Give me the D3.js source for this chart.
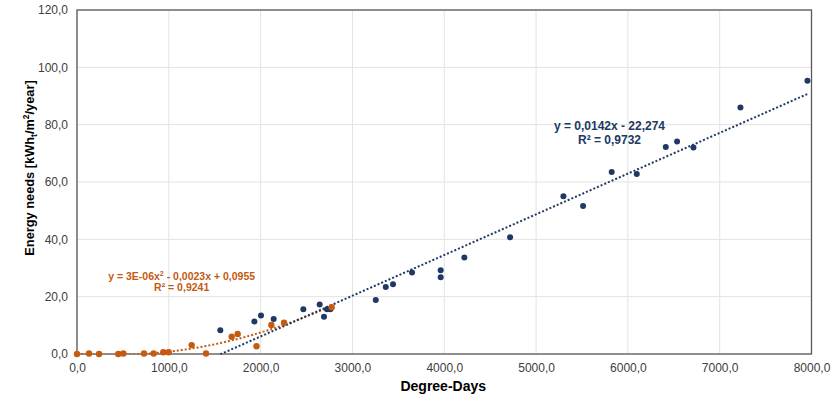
<!DOCTYPE html>
<html>
<head>
<meta charset="utf-8">
<script src="https://cdn.jsdelivr.net/npm/d3@7"></script>
<style>
  body { margin: 0; background: #fff; }
  text { font-family: "Liberation Sans", Arial, sans-serif; }
</style>
</head>
<body>
<script>
// data
var blueX = [1561, 1932, 2004, 2142, 2465, 2643, 2690, 2723, 2760, 3254, 3363, 3442, 3649, 3961, 3961, 4219, 4717, 5298, 5512, 5824, 6097, 6413, 6536, 6714, 7226, 7956];
var blueY = [8.3, 11.3, 13.4, 12.2, 15.6, 17.3, 13.0, 15.6, 15.6, 18.8, 23.4, 24.3, 28.4, 29.2, 26.8, 33.7, 40.7, 55.0, 51.6, 63.5, 62.8, 72.2, 74.1, 72.0, 86.0, 95.3];
var orangeX = [0, 131, 240, 450, 505, 730, 835, 940, 999, 1249, 1405, 1685, 1750, 1955, 2117, 2255, 2774];
var orangeY = [0, 0.2, 0, 0, 0.2, 0.2, 0.2, 0.6, 0.6, 3.1, 0.2, 6.0, 7.0, 2.7, 10.1, 10.9, 16.3];

// trendline coefficients (from the labels)
var blueFit = [0.0142, -22.274];          // a*x + b
var orangeFit = [3e-6, -0.0023, 0.0955];  // a*x^2 + b*x + c

var xTicks = [0, 1000, 2000, 3000, 4000, 5000, 6000, 7000, 8000];
var yTicks = [0, 20, 40, 60, 80, 100, 120];

var svgWidth = 838;
var svgHeight = 396;
var margin = { top: 10, right: 26.5, bottom: 42, left: 77 };
var width = svgWidth - margin.left - margin.right;
var height = svgHeight - margin.top - margin.bottom;

var navy = "#203864";
var orange = "#c55a11";

var loc = d3.formatLocale({ decimal: ",", thousands: "", grouping: [3], currency: ["", ""] });
var fmt = loc.format(".1f");

var svg = d3.select("body").append("svg")
  .attr("width", svgWidth)
  .attr("height", svgHeight);

var chartGroup = svg.append("g")
  .attr("transform", `translate(${margin.left}, ${margin.top})`);

var xScale = d3.scaleLinear().domain([0, 8000]).range([0, width]);
var yScale = d3.scaleLinear().domain([0, 120]).range([height, 0]);

// gridlines
chartGroup.append("g").selectAll("line").data(xTicks).enter().append("line")
  .attr("x1", d => xScale(d)).attr("x2", d => xScale(d))
  .attr("y1", 0).attr("y2", height)
  .attr("stroke", "#e3e3e3").attr("stroke-width", 1);
chartGroup.append("g").selectAll("line").data(yTicks).enter().append("line")
  .attr("x1", 0).attr("x2", width)
  .attr("y1", d => yScale(d)).attr("y2", d => yScale(d))
  .attr("stroke", "#e3e3e3").attr("stroke-width", 1);

// axes (labels only)
var bottomAxis = d3.axisBottom(xScale).tickValues(xTicks).tickFormat(fmt).tickSize(0).tickPadding(9);
var leftAxis = d3.axisLeft(yScale).tickValues(yTicks).tickFormat(fmt).tickSize(0).tickPadding(9);

var xAxis = chartGroup.append("g")
  .attr("transform", `translate(0, ${height})`)
  .call(bottomAxis);
var yAxis = chartGroup.append("g").call(leftAxis);

[xAxis, yAxis].forEach(function(ax) {
  ax.select(".domain").remove();
  ax.selectAll("text")
    .attr("font-family", "Liberation Sans, Arial, sans-serif")
    .attr("font-size", "12px")
    .attr("fill", "#404040");
});

// plot border
chartGroup.append("rect")
  .attr("x", 0).attr("y", 0)
  .attr("width", width).attr("height", height)
  .attr("fill", "none")
  .attr("stroke", "#595959")
  .attr("stroke-width", 1.3);

// clip for trendlines
svg.append("defs").append("clipPath").attr("id", "plotClip")
  .append("rect").attr("x", 0).attr("y", -2).attr("width", width).attr("height", height + 2.5);

var line = d3.line().x(d => xScale(d[0])).y(d => yScale(d[1]));

// linear trendline over the blue data range
var bx0 = d3.min(blueX), bx1 = d3.max(blueX);
var bluePts = [[bx0, blueFit[0] * bx0 + blueFit[1]], [bx1, blueFit[0] * bx1 + blueFit[1]]];

// polynomial trendline over the orange data range
var ox0 = d3.min(orangeX), ox1 = d3.max(orangeX);
var orangePts = d3.range(ox0, ox1 + 1, 20).map(function(x) {
  return [x, orangeFit[0] * x * x + orangeFit[1] * x + orangeFit[2]];
});

var trend = chartGroup.append("g").attr("clip-path", "url(#plotClip)");
trend.append("path").datum(orangePts)
  .attr("d", line)
  .attr("fill", "none")
  .attr("stroke", orange)
  .attr("stroke-width", 2)
  .attr("stroke-dasharray", "2 2");
trend.append("path").datum(bluePts)
  .attr("d", line)
  .attr("fill", "none")
  .attr("stroke", navy)
  .attr("stroke-width", 2)
  .attr("stroke-dasharray", "2 2");

// points
chartGroup.append("g").selectAll("circle")
  .data(blueX.map((x, i) => [x, blueY[i]]))
  .enter().append("circle")
  .attr("cx", d => xScale(d[0]))
  .attr("cy", d => yScale(d[1]))
  .attr("r", 3)
  .attr("fill", navy);

chartGroup.append("g").selectAll("circle")
  .data(orangeX.map((x, i) => [x, orangeY[i]]))
  .enter().append("circle")
  .attr("cx", d => xScale(d[0]))
  .attr("cy", d => yScale(d[1]))
  .attr("r", 3.2)
  .attr("fill", orange);

// equation labels
var blueLbl = chartGroup.append("text")
  .attr("text-anchor", "middle")
  .attr("font-size", "12px")
  .attr("font-weight", "bold")
  .attr("fill", navy);
blueLbl.append("tspan").attr("x", xScale(5800)).attr("y", yScale(78.3)).text("y = 0,0142x - 22,274");
blueLbl.append("tspan").attr("x", xScale(5800)).attr("y", yScale(73.4)).text("R² = 0,9732");

var orangeLbl = chartGroup.append("text")
  .attr("text-anchor", "middle")
  .attr("font-size", "10.5px")
  .attr("font-weight", "bold")
  .attr("fill", orange);
var l1 = orangeLbl.append("tspan").attr("x", xScale(1140)).attr("y", yScale(25.9));
l1.append("tspan").text("y = 3E-06x");
l1.append("tspan").attr("dy", "-4").attr("font-size", "7px").text("2");
l1.append("tspan").attr("dy", "4").text(" - 0,0023x + 0,0955");
orangeLbl.append("tspan").attr("x", xScale(1140)).attr("y", yScale(22.0)).text("R² = 0,9241");

// axis titles
chartGroup.append("text")
  .attr("x", width / 2 - 1)
  .attr("y", height + 37)
  .attr("text-anchor", "middle")
  .attr("font-size", "14px")
  .attr("font-weight", "bold")
  .attr("fill", "#000")
  .text("Degree-Days");

var yTitle = chartGroup.append("text")
  .attr("transform", `translate(${-43}, ${158}) rotate(-90)`)
  .attr("text-anchor", "middle")
  .attr("font-size", "12.8px")
  .attr("font-weight", "bold")
  .attr("fill", "#000");
yTitle.append("tspan").text("Energy needs [kWh");
yTitle.append("tspan").attr("dy", "3").attr("font-size", "8.5px").text("t");
yTitle.append("tspan").attr("dy", "-3").text("/m");
yTitle.append("tspan").attr("dy", "-5").attr("font-size", "8.5px").text("2");
yTitle.append("tspan").attr("dy", "5").text("/year]");
</script>
</body>
</html>
